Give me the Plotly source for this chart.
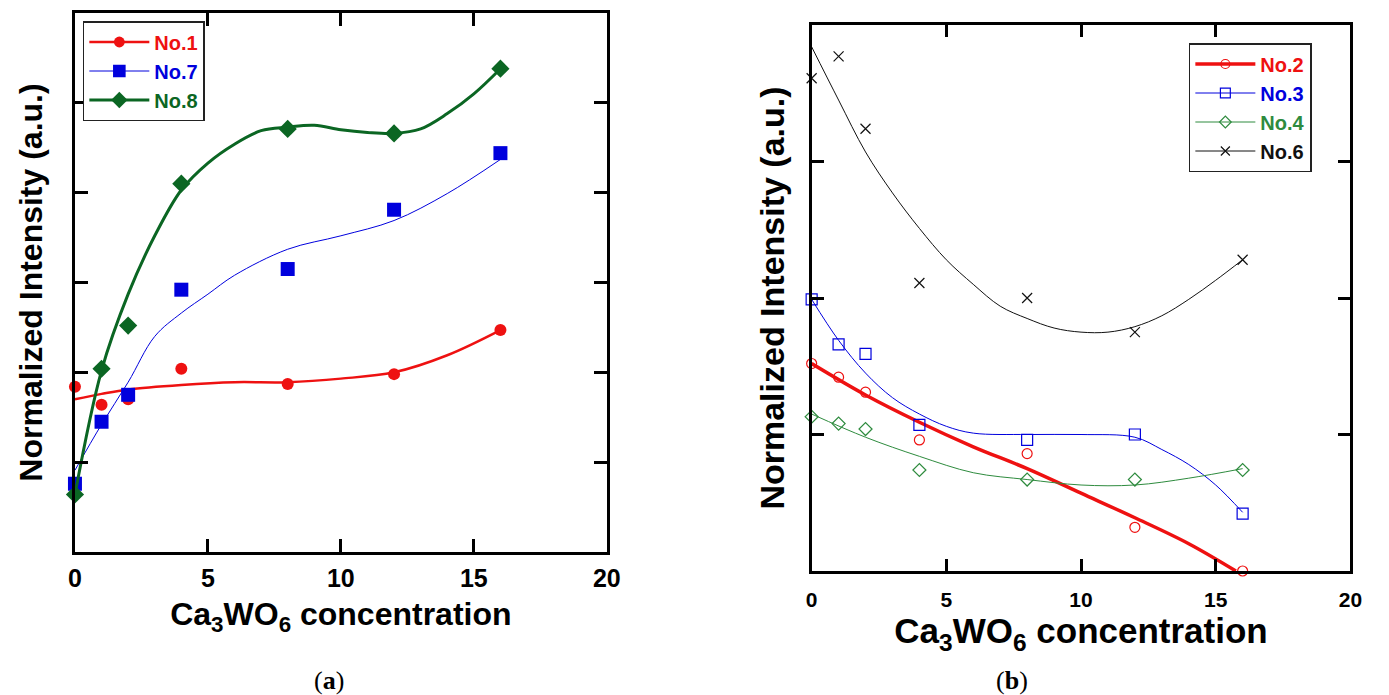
import plotly.graph_objects as go

# ---------------- data ----------------
conc = [0, 1, 2, 4, 8, 12, 16]

# panel (a): measured points
a_no1 = [1.84, 1.64, 1.70, 2.04, 1.87, 1.98, 2.47]
a_no7 = [0.76, 1.45, 1.75, 2.92, 3.15, 3.81, 4.44]
a_no8 = [0.64, 2.04, 2.52, 4.10, 4.71, 4.66, 5.38]

# panel (a): fitted curves
a_fit1_x = [0, 1, 2, 4, 6, 8, 10, 12, 14, 16]
a_fit1_y = [1.70, 1.76, 1.81, 1.86, 1.89, 1.89, 1.93, 2.00, 2.19, 2.47]
a_fit7_x = [0, 1, 2, 3, 4, 5, 6, 8, 10, 12, 14, 16]
a_fit7_y = [0.91, 1.42, 1.89, 2.40, 2.66, 2.87, 3.08, 3.37, 3.52, 3.69, 3.99, 4.37]
a_fit8_x = [0, 1, 2, 3, 4, 5, 6, 7, 8, 9, 10, 11, 12, 13, 14, 15, 16]
a_fit8_y = [0.64, 2.02, 2.87, 3.52, 4.03, 4.33, 4.54, 4.69, 4.73, 4.75, 4.70, 4.67,
            4.66, 4.71, 4.88, 5.10, 5.38]

# panel (b): measured points
b_no2 = [1.52, 1.42, 1.31, 0.96, 0.86, 0.32, 0.00]
b_no3 = [1.99, 1.66, 1.59, 1.07, 0.96, 1.00, 0.42]
b_no4 = [1.13, 1.08, 1.04, 0.74, 0.67, 0.67, 0.74]
b_no6 = [3.61, 3.77, 3.24, 2.11, 2.00, 1.75, 2.28]

# panel (b): fitted curves
b_fit2_x = [0, 2, 4, 6, 8, 10, 12, 14, 15.75]
b_fit2_y = [1.52, 1.29, 1.09, 0.91, 0.75, 0.57, 0.39, 0.20, 0.00]
b_fit3_x = [0, 1, 2, 3, 4, 5, 6, 8, 10, 12, 13, 14, 15, 16]
b_fit3_y = [1.99, 1.69, 1.45, 1.27, 1.15, 1.06, 1.01, 1.00, 1.00, 0.98, 0.89, 0.78, 0.63, 0.43]
b_fit4_x = [0, 2, 4, 6, 8, 10, 12, 14, 16]
b_fit4_y = [1.15, 0.98, 0.84, 0.72, 0.67, 0.63, 0.63, 0.68, 0.75]
b_fit6_x = [0, 1, 2, 3, 4, 5, 6, 7, 8, 9, 10, 11, 12, 13, 14, 15, 16]
b_fit6_y = [3.84, 3.45, 3.07, 2.77, 2.51, 2.28, 2.10, 1.94, 1.85, 1.78, 1.75, 1.75,
            1.79, 1.87, 1.99, 2.13, 2.28]

x_ticks = [0, 5, 10, 15, 20]
a_y_ticks = [1, 2, 3, 4, 5]
b_y_ticks = [1, 2, 3]

# ---------------- styles ----------------
RED = "#ee1111"
BLUE = "#0000dd"
GREEN_A = "#0b6623"
GREEN_B = "#2e8b3e"
BLACK = "#111111"
SANS = "Liberation Sans, Arial, sans-serif"
NARROW = "Liberation Sans Narrow, Liberation Sans, Arial, sans-serif"

fig = go.Figure()


def add_series(x, y, fx, fy, color, lw, symbol, size, name, xa, ya, legend,
               open_marker=False):
    mline = dict(color=color, width=1.2) if open_marker else dict(width=0)
    fig.add_trace(go.Scatter(x=fx, y=fy, mode="lines", xaxis=xa, yaxis=ya,
                             line=dict(color=color, width=lw, shape="spline", smoothing=1),
                             showlegend=False, hoverinfo="skip"))
    fig.add_trace(go.Scatter(x=x, y=y, mode="markers", xaxis=xa, yaxis=ya,
                             marker=dict(color=color, symbol=symbol, size=size, line=mline),
                             cliponaxis=False, showlegend=False, name=name))
    # legend entry
    fig.add_trace(go.Scatter(x=[None], y=[None], mode="lines+markers", xaxis=xa, yaxis=ya,
                             line=dict(color=color, width=lw),
                             marker=dict(color=color, symbol=symbol, size=size * 0.9,
                                         line=mline),
                             name=f"<span style='color:{color}'><b>{name}</b></span>",
                             legend=legend, showlegend=True))


add_series(conc, a_no1, a_fit1_x, a_fit1_y, RED, 2.5, "circle", 12, "No.1", "x", "y", "legend")
add_series(conc, a_no7, a_fit7_x, a_fit7_y, BLUE, 1, "square", 14, "No.7", "x", "y", "legend")
add_series(conc, a_no8, a_fit8_x, a_fit8_y, GREEN_A, 3, "diamond", 14, "No.8", "x", "y", "legend")

add_series(conc, b_no2, b_fit2_x, b_fit2_y, RED, 3.5, "circle-open", 10, "No.2", "x2", "y2", "legend2", True)
add_series(conc, b_no3, b_fit3_x, b_fit3_y, BLUE, 1, "square-open", 11, "No.3", "x2", "y2", "legend2", True)
add_series(conc, b_no4, b_fit4_x, b_fit4_y, GREEN_B, 1, "diamond-open", 10, "No.4", "x2", "y2", "legend2", True)
add_series(conc, b_no6, b_fit6_x, b_fit6_y, BLACK, 1, "x-thin-open", 10, "No.6", "x2", "y2", "legend2", True)

W, H = 1389, 695

axis_common = dict(showline=True, linecolor="black", linewidth=3, mirror="ticks",
                   ticks="inside", tickcolor="black", tickwidth=3, showgrid=False,
                   zeroline=False)

xtitle = "<b>Ca<sub>3</sub>WO<sub>6</sub> concentration</b>"
ytitle = "<b>Normalized Intensity (a.u.)</b>"

fig.update_layout(
    width=W, height=H, margin=dict(l=0, r=0, t=0, b=0),
    paper_bgcolor="white", plot_bgcolor="white",
    font=dict(family=SANS, color="black"),
    xaxis=dict(**axis_common, domain=[69 / W, 609 / W], range=[0, 20], tickvals=x_ticks,
               ticklen=13, tickfont=dict(family=NARROW, size=25, color="black", weight="bold"),
               ticklabelstandoff=2,
               title=dict(text=xtitle, font=dict(size=32), standoff=12), anchor="y"),
    yaxis=dict(**axis_common, domain=[1 - 552 / H, 1 - 13 / H], range=[0, 6], tickvals=a_y_ticks,
               ticklen=13, showticklabels=False,
               title=dict(text=ytitle, font=dict(size=32), standoff=20), anchor="x"),
    xaxis2=dict(**axis_common, domain=[817 / W, 1364 / W], range=[0, 20], tickvals=x_ticks,
                ticklen=12, tickfont=dict(family=SANS, size=21, color="black", weight="bold"),
                ticklabelstandoff=8,
                title=dict(text=xtitle, font=dict(size=35), standoff=8), anchor="y2"),
    yaxis2=dict(**axis_common, domain=[1 - 571 / H, 1 - 25 / H], range=[0, 4], tickvals=b_y_ticks,
                ticklen=12, showticklabels=False,
                title=dict(text=ytitle, font=dict(size=34), standoff=14), anchor="x2"),
    legend=dict(x=77 / W, y=1 - 21 / H, xanchor="left", yanchor="top",
                bordercolor="#222", borderwidth=1.5, bgcolor="white",
                font=dict(size=20, family=SANS), itemwidth=60, tracegroupgap=0),
    legend2=dict(x=1200 / W, y=1 - 43 / H, xanchor="left", yanchor="top",
                 bordercolor="#222", borderwidth=1.5, bgcolor="white",
                 font=dict(size=20, family=SANS), itemwidth=60, tracegroupgap=0),
    annotations=[
        dict(text="(<b>a</b>)", x=327 / W, y=1 - 680 / H, xref="paper", yref="paper",
             xanchor="center", yanchor="middle", showarrow=False,
             font=dict(family="Liberation Serif, serif", size=26, color="black")),
        dict(text="(<b>b</b>)", x=1020 / W, y=1 - 680 / H, xref="paper", yref="paper",
             xanchor="center", yanchor="middle", showarrow=False,
             font=dict(family="Liberation Serif, serif", size=26, color="black")),
    ],
)

fig.write_html("out.html")
